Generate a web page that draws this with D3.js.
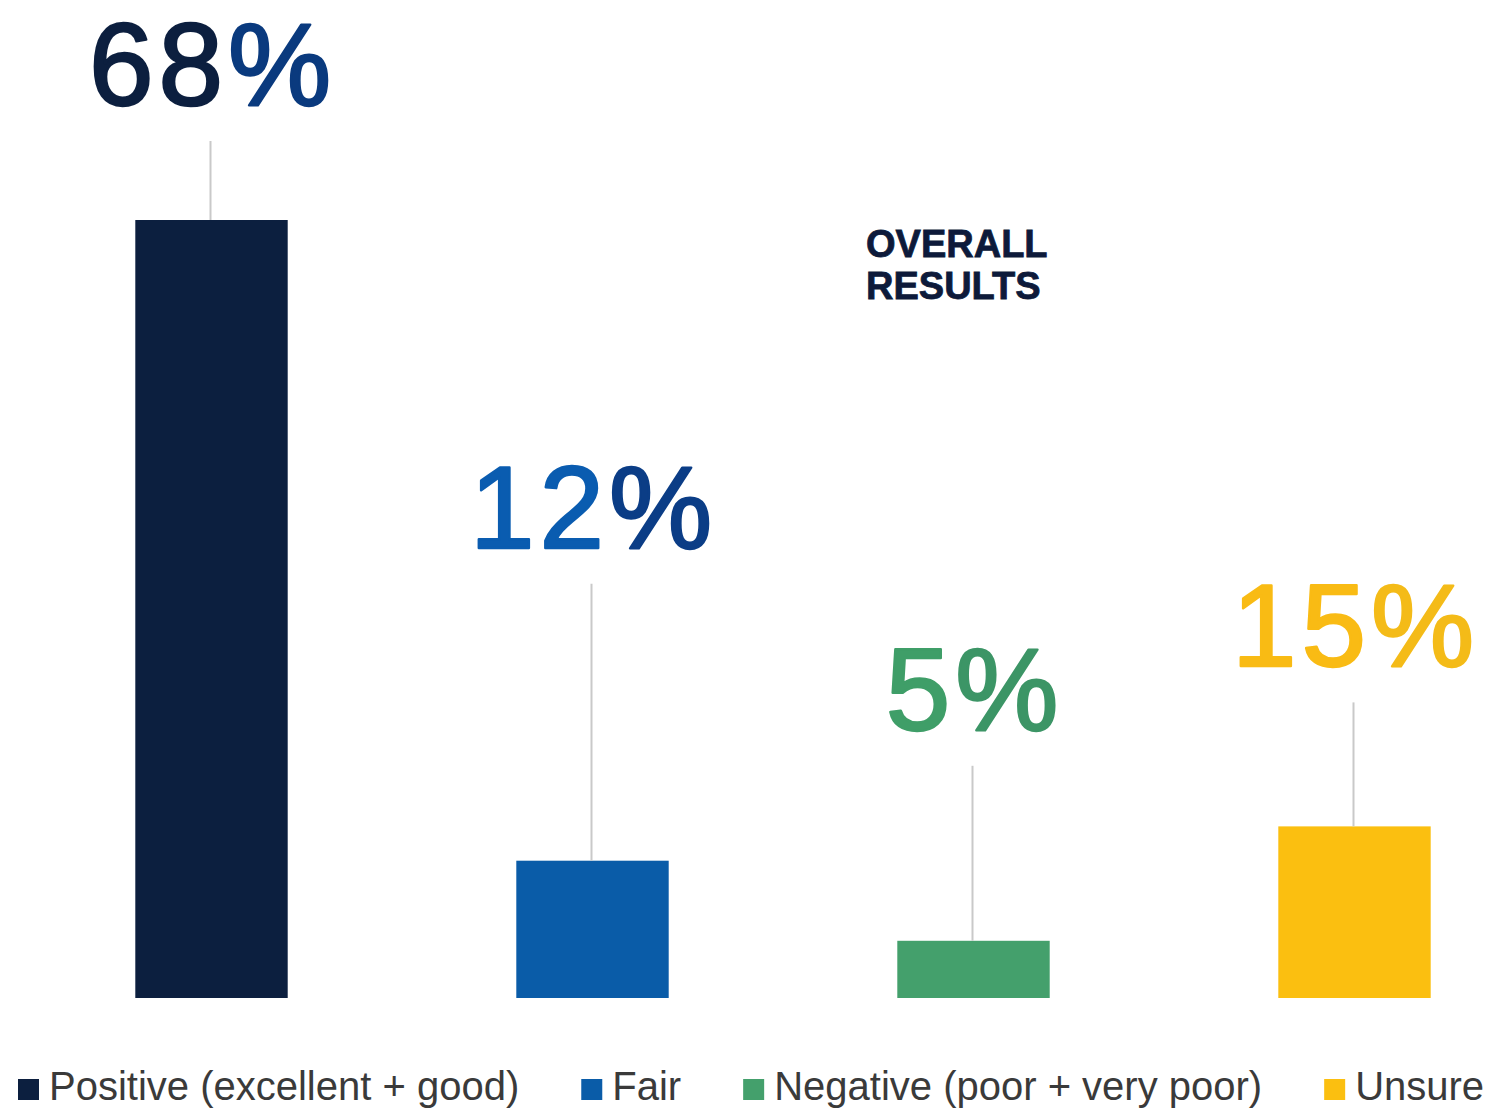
<!DOCTYPE html>
<html>
<head>
<meta charset="utf-8">
<script src="https://cdn.jsdelivr.net/npm/d3@7"></script>
<style>
  html, body { margin: 0; padding: 0; background: #ffffff; }
  svg { display: block; }
  text { font-family: "Liberation Sans", Arial, Helvetica, sans-serif; }
</style>
</head>
<body>
<svg id="chart" width="1488" height="1108"></svg>
<script>
// Survey categories and their shares (%)
const categories = ["Positive (excellent + good)", "Fair", "Negative (poor + very poor)", "Unsure"];
const values = [68, 12, 5, 15];
const colors = ["#0c1f3f", "#0a5ca8", "#44a06c", "#fbbf10"];
const digitColors = ["#0c1f3f", "#0a5cb0", "#3f9e68", "#f9bb14"];
const percentColors = ["#0a3a7e", "#0b3d86", "#3c9566", "#f4bb18"];

// Distance (px) from each bar top up to its value label baseline
const labelLift = [115, 313, 211, 160];

const svg = d3.select("#chart");

const x = d3.scaleBand()
  .domain(categories)
  .range([21, 1545])
  .paddingInner(0.6)
  .paddingOuter(0.3);

const y = d3.scaleLinear()
  .domain([0, 68])
  .range([998, 220]);

const data = categories.map((c, i) => ({ c, v: values[i], i }));
const mid = d => x(d.c) + x.bandwidth() / 2;

// Bars
svg.append("g").selectAll("rect")
  .data(data)
  .join("rect")
  .attr("x", d => x(d.c))
  .attr("y", d => y(d.v))
  .attr("width", x.bandwidth())
  .attr("height", d => y(0) - y(d.v))
  .attr("fill", d => colors[d.i]);

// Leader lines from label to bar top
svg.append("g").selectAll("line")
  .data(data)
  .join("line")
  .attr("x1", d => mid(d) - 1)
  .attr("x2", d => mid(d) - 1)
  .attr("y1", d => y(d.v) - labelLift[d.i] + 36)
  .attr("y2", d => y(d.v))
  .attr("stroke", "#c9c9c9")
  .attr("stroke-width", 2);

// Value labels (slightly thickened with a matching outline)
const lbl = svg.append("g").selectAll("text")
  .data(data)
  .join("text")
  .attr("x", d => mid(d) + 1)
  .attr("y", d => y(d.v) - labelLift[d.i])
  .attr("text-anchor", "middle")
  .attr("font-size", 116)
  .attr("letter-spacing", 5)
  .attr("stroke-width", 2.5)
  .attr("stroke-linejoin", "round");
lbl.append("tspan").text(d => d.v)
  .attr("fill", d => digitColors[d.i]).attr("stroke", d => digitColors[d.i]);
lbl.append("tspan").text("%")
  .attr("fill", d => percentColors[d.i]).attr("stroke", d => percentColors[d.i]);

// Title
const title = svg.append("text")
  .attr("x", 866)
  .attr("y", 257)
  .attr("font-size", 38)
  .attr("font-weight", 700)
  .attr("fill", "#0d1a3a")
  .attr("stroke", "#0d1a3a")
  .attr("stroke-width", 0.8);
title.append("tspan").attr("x", 866).attr("dy", 0).text("OVERALL");
title.append("tspan").attr("x", 866).attr("dy", 42).text("RESULTS");

// Legend
const legend = svg.append("g").attr("transform", "translate(0,1100)");
let cx = 18;
data.forEach(d => {
  const g = legend.append("g").attr("transform", `translate(${cx},0)`);
  g.append("rect")
    .attr("x", 0).attr("y", -21)
    .attr("width", 21).attr("height", 21)
    .attr("fill", colors[d.i]);
  const t = g.append("text")
    .attr("x", 31).attr("y", 0)
    .attr("font-size", 40)
    .attr("fill", "#3a3a3a")
    .text(d.c);
  cx += 31 + t.node().getComputedTextLength() + 62;
});
</script>
</body>
</html>
